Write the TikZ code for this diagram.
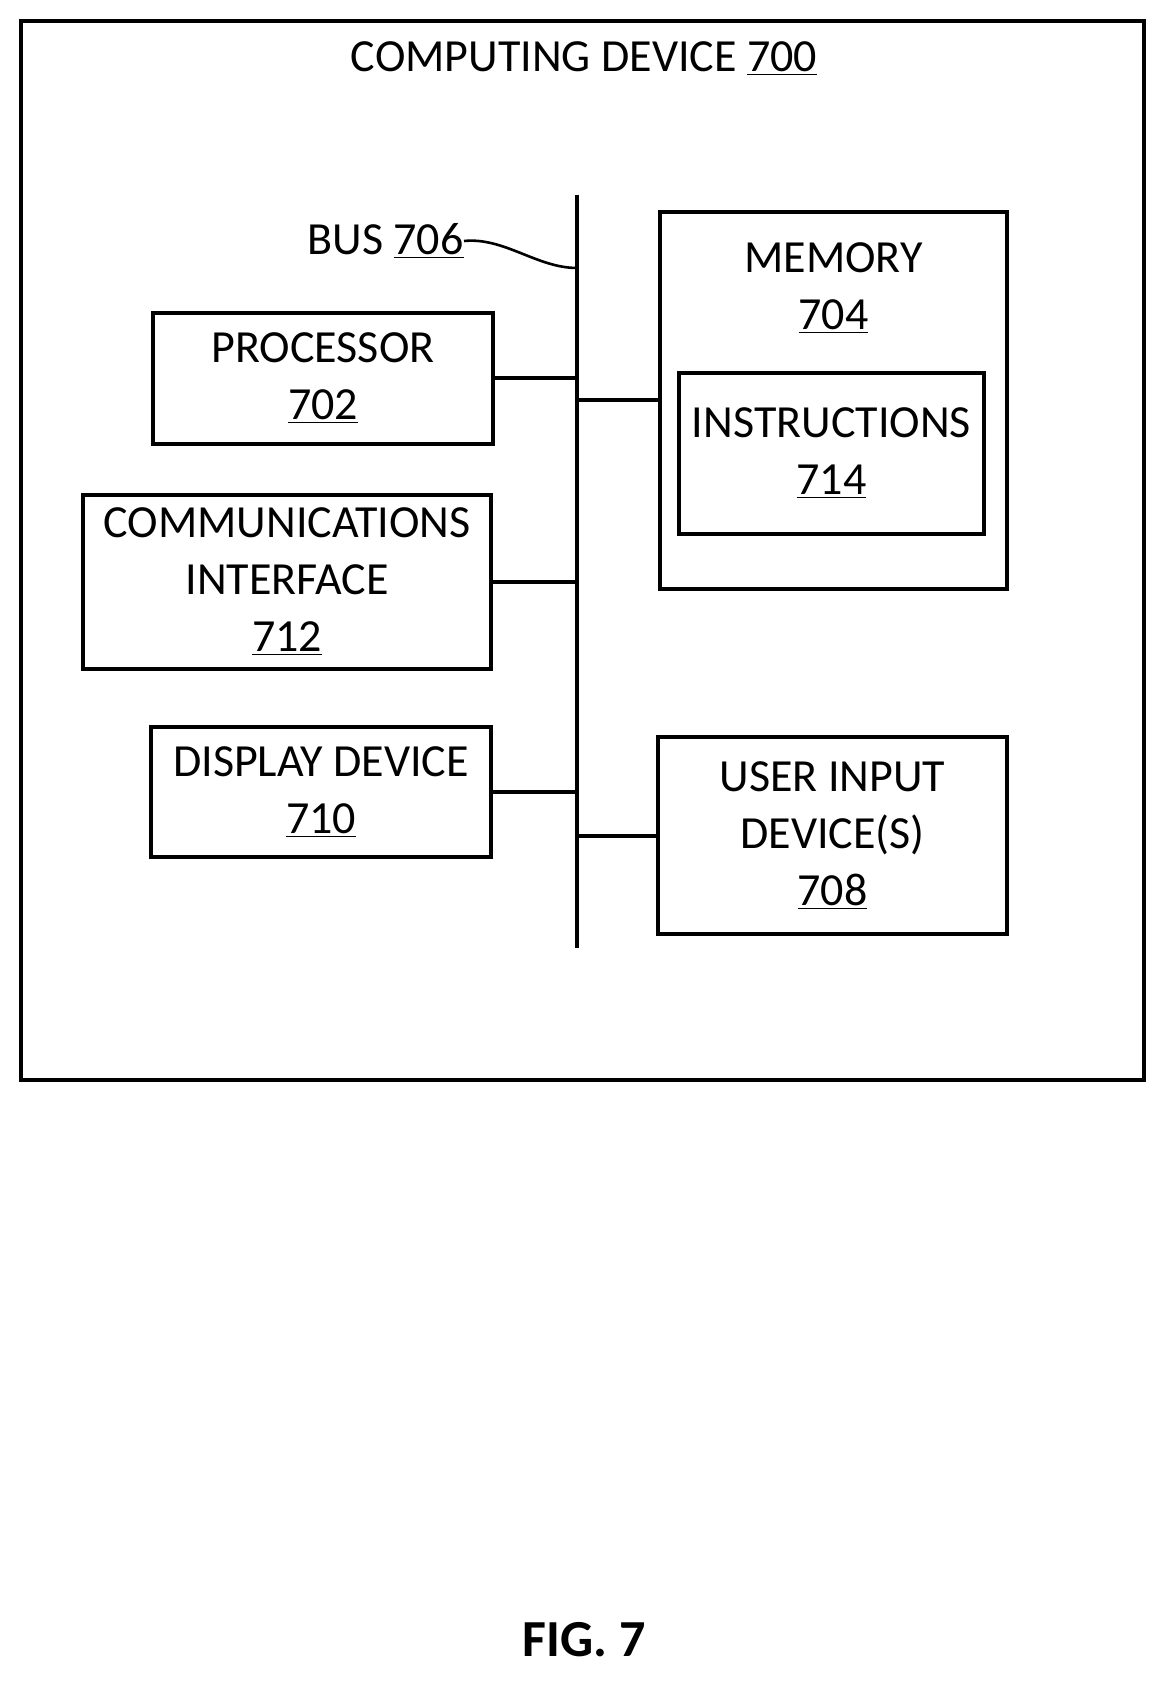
\documentclass[tikz,border=0pt]{standalone}
\usepackage{fontspec}
\setmainfont{Carlito}
\usetikzlibrary{positioning}

\tikzset{
  blk/.style={draw, line width=2pt, rectangle, align=center, inner sep=0pt},
  lbl/.style={align=center, inner sep=0pt, font=\fontsize{23}{28.5}\selectfont},
  wire/.style={line width=2pt}
}

\begin{document}
\begin{tikzpicture}[x=0.5pt, y=-0.5pt]
    \useasboundingbox (0,0) rectangle (1168,1684);
    % outer device
    \draw[line width=2pt] (21,21) rectangle (1144,1080);
    \node[lbl] (title) at (584,59) {COMPUTING DEVICE \underline{700}};

    % bus
    \coordinate (bustop) at (577,195);
    \coordinate (busbot) at (577,948);
    \draw[wire] (bustop) -- (busbot);
    \node[lbl, anchor=east] (buslbl) at (464,241) {BUS \underline{706}};
    \draw[line width=1.3pt] (buslbl.east) .. controls +(40,-4) and +(-40,0) .. (577,268);

    % left side blocks
    \node[blk, minimum width=170pt, minimum height=65.5pt, lbl] (proc) at (323,378.5) {PROCESSOR\\\underline{702}};
    \node[blk, minimum width=204pt, minimum height=87pt, lbl] (comm) at (287,582) {COMMUNICATIONS\\INTERFACE\\\underline{712}};
    \node[blk, minimum width=170pt, minimum height=65pt, lbl] (disp) at (321,792) {DISPLAY DEVICE\\\underline{710}};

    % right side blocks
    \node[blk, minimum width=173.5pt, minimum height=188.5pt] (mem) at (833.5,400.5) {};
    \node[lbl, below=16pt of mem.north] (memlbl) {MEMORY\\\underline{704}};
    \node[blk, minimum width=152.5pt, minimum height=80.5pt, lbl] (instr) at (831.5,453.5) {INSTRUCTIONS\\\underline{714}};
    \node[blk, minimum width=174.5pt, minimum height=98.5pt, lbl] (uid) at (832.5,835.5) {USER INPUT\\DEVICE(S)\\\underline{708}};

    % connectors to the bus
    \foreach \n in {proc, comm, disp}
      \draw[wire] (\n.east) -- (\n.east -| bustop);
    \foreach \n in {mem, uid}
      \draw[wire] (\n.west) -- (\n.west -| bustop);

    \node[lbl, font=\bfseries\fontsize{26}{30}\selectfont] (fig) at (584,1640) {FIG. 7};
\end{tikzpicture}
\end{document}
